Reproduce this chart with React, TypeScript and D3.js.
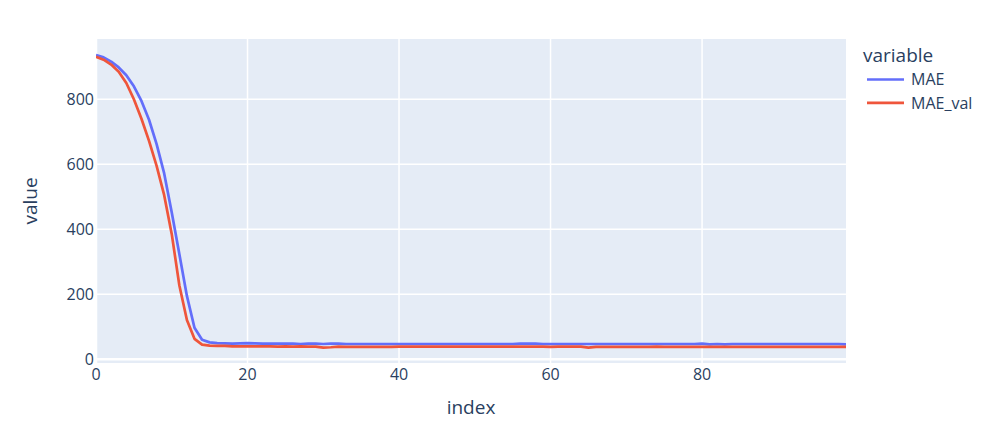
import React from "react";
import * as d3 from "d3";

const seriesNames = ["MAE", "MAE_val"];
const seriesColors = ["#636efa", "#EF553B"];

const maeValues = [
  936, 929, 916, 898, 874, 840, 795, 737, 662, 572,
  452, 324, 195, 97, 60, 52, 50, 49, 48, 49,
  50, 49, 48, 48, 48, 48, 48, 47, 48, 48,
  47, 48, 48, 47, 47, 47, 47, 47, 47, 47,
  47, 47, 47, 47, 47, 47, 47, 47, 47, 47,
  47, 47, 47, 47, 47, 47, 48, 48, 48, 47,
  47, 47, 47, 47, 47, 47, 47, 47, 47, 47,
  47, 47, 47, 47, 47, 47, 47, 47, 47, 47,
  48, 46, 47, 46, 47, 47, 47, 47, 47, 47,
  47, 47, 47, 47, 47, 47, 47, 47, 47, 46,
];

const maeValValues = [
  931, 922, 907, 885, 850, 800, 740, 672, 595, 505,
  385, 228, 121, 63, 45, 42, 41, 41, 40, 40,
  40, 40, 40, 40, 39, 40, 39, 40, 39, 39,
  36, 37, 39, 38, 38, 38, 38, 38, 38, 38,
  39, 39, 39, 39, 39, 39, 39, 39, 39, 39,
  39, 39, 39, 39, 39, 39, 39, 39, 39, 39,
  38, 39, 39, 39, 39, 36, 38, 38, 38, 38,
  38, 38, 38, 38, 39, 38, 38, 38, 38, 38,
  38, 38, 38, 38, 38, 38, 38, 38, 38, 38,
  38, 38, 38, 38, 38, 38, 38, 38, 38, 38,
];

const xTicks = [0, 20, 40, 60, 80];
const yTicks = [0, 200, 400, 600, 800];

const W = 991;
const H = 422;
const plot = { left: 96, right: 846, top: 39, bottom: 363 };
const FONT = "'Open Sans', sans-serif";
const TXT = "#2a3f5f";

export default function App() {
  const x = d3.scaleLinear().domain([0, 99]).range([plot.left, plot.right]);
  const y = d3.scaleLinear().domain([-11.4, 985.5]).range([plot.bottom, plot.top]);
  const line = d3
    .line<number>()
    .x((_, i) => x(i))
    .y((d) => y(d));
  const allSeries = [maeValues, maeValValues];

  return (
    <svg
      width={W}
      height={H}
      style={{ position: "absolute", left: 0, top: 0, background: "#fff" }}
      fontFamily={FONT}
    >
      <defs>
        <clipPath id="plotclip">
          <rect x={plot.left} y={plot.top} width={plot.right - plot.left} height={plot.bottom - plot.top} />
        </clipPath>
      </defs>
      <rect
        x={plot.left}
        y={plot.top}
        width={plot.right - plot.left}
        height={plot.bottom - plot.top}
        fill="#E5ECF6"
      />
      {xTicks.map((t) => (
        <line
          key={"xg" + t}
          x1={x(t)}
          x2={x(t)}
          y1={plot.top}
          y2={plot.bottom}
          stroke="#fff"
          strokeWidth={t === 0 ? 2.5 : 1.5}
        />
      ))}
      {yTicks.map((t) => (
        <line
          key={"yg" + t}
          x1={plot.left}
          x2={plot.right}
          y1={y(t)}
          y2={y(t)}
          stroke="#fff"
          strokeWidth={t === 0 ? 2.5 : 1.5}
        />
      ))}
      <g clipPath="url(#plotclip)">
        {allSeries.map((s, i) => (
          <path
            key={seriesNames[i]}
            d={line(s) || ""}
            fill="none"
            stroke={seriesColors[i]}
            strokeWidth={2.7}
            strokeLinejoin="round"
          />
        ))}
      </g>
      {xTicks.map((t) => (
        <text
          key={"xt" + t}
          x={x(t)}
          y={380}
          textAnchor="middle"
          fontSize={16}
          fill={TXT}
        >
          {t}
        </text>
      ))}
      {yTicks.map((t) => (
        <text
          key={"yt" + t}
          x={94}
          y={y(t)}
          dy="0.35em"
          textAnchor="end"
          fontSize={16}
          fill={TXT}
        >
          {t}
        </text>
      ))}
      <text x={(plot.left + plot.right) / 2} y={414} textAnchor="middle" fontSize={19} fill={TXT}>
        index
      </text>
      <text
        transform={`translate(37, ${(plot.top + plot.bottom) / 2}) rotate(-90)`}
        textAnchor="middle"
        fontSize={19}
        fill={TXT}
      >
        value
      </text>
      <text x={863} y={62} fontSize={19} fill={TXT}>
        variable
      </text>
      {seriesNames.map((n, i) => (
        <g key={"lg" + n}>
          <line
            x1={867}
            x2={904}
            y1={79.5 + i * 23.4}
            y2={79.5 + i * 23.4}
            stroke={seriesColors[i]}
            strokeWidth={2.7}
          />
          <text x={911} y={79.5 + i * 23.4} dy="0.35em" fontSize={16} fill={TXT}>
            {n}
          </text>
        </g>
      ))}
    </svg>
  );
}
